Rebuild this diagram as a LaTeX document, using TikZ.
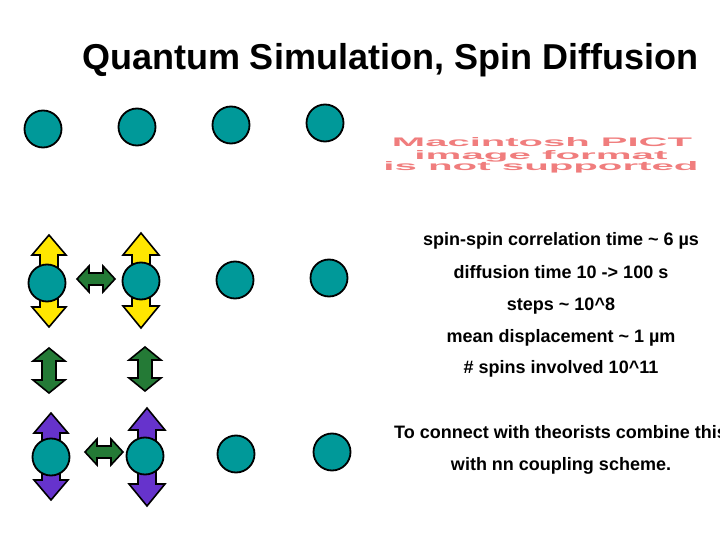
\documentclass[tikz,border=0pt]{standalone}
\usepackage{fontspec}
\setmainfont{Liberation Sans}
\definecolor{spinteal}{RGB}{0,153,153}
\definecolor{spinyellow}{RGB}{255,230,0}
\definecolor{spingreen}{RGB}{36,122,54}
\definecolor{spinpurple}{RGB}{102,51,204}
\definecolor{pictpink}{RGB}{240,125,125}
\newcommand\vdarr[7]{% color, cx, top, bottom, head half width, head length, shaft half width
  \filldraw[arrowshape, fill=#1] (#2,#3) -- (#2+#5,#3+#6) -- (#2+#7,#3+#6) -- (#2+#7,#4-#6) -- (#2+#5,#4-#6)
    -- (#2,#4) -- (#2-#5,#4-#6) -- (#2-#7,#4-#6) -- (#2-#7,#3+#6) -- (#2-#5,#3+#6) -- cycle;}
\newcommand\hdarr[7]{% color, cy, left, right, head half height, head length, shaft half height
  \filldraw[arrowshape, fill=#1] (#3,#2) -- (#3+#6,#2-#5) -- (#3+#6,#2-#7) -- (#4-#6,#2-#7) -- (#4-#6,#2-#5)
    -- (#4,#2) -- (#4-#6,#2+#5) -- (#4-#6,#2+#7) -- (#3+#6,#2+#7) -- (#3+#6,#2+#5) -- cycle;}
\begin{document}
\begin{tikzpicture}[x=1pt,y=-1pt,
  spin/.style={circle, draw=black, line width=1.8pt, fill=spinteal, minimum size=37pt, inner sep=0pt},
  arrowshape/.style={draw=black, line width=1.6pt, line join=miter},
  info/.style={font=\fontsize{18}{20}\selectfont\bfseries, anchor=base, inner sep=0pt},
  pict/.style={text=pictpink, font=\bfseries, anchor=base, inner sep=0pt}]
\useasboundingbox (0,0) rectangle (720,540);
\clip (0,0) rectangle (720,540);
% title
\node[font=\fontsize{36}{40}\selectfont\bfseries, anchor=base, inner sep=0pt] (title) at (390,70) {Quantum Simulation, Spin Diffusion};
% row 1
\node[spin] (a1) at (43,129) {};
\node[spin] (a2) at (137,127) {};
\node[spin] (a3) at (231,125) {};
\node[spin] (a4) at (325,123) {};
% row 2 arrows
\vdarr{spinyellow}{49}{235}{327}{17}{20}{9}
\vdarr{spinyellow}{141}{233}{328}{18}{22}{9}
\hdarr{spingreen}{279}{77}{115}{13}{12}{6}
% row 2
\node[spin] (b1) at (47,283) {};
\node[spin] (b2) at (141,281) {};
\node[spin] (b3) at (235,280) {};
\node[spin] (b4) at (329,278) {};
% vertical green arrows
\vdarr{spingreen}{49}{348}{393}{16}{13}{7}
\vdarr{spingreen}{145}{347}{391}{16}{13}{7}
% row 3 arrows
\vdarr{spinpurple}{51}{413}{500}{17}{20}{9}
\vdarr{spinpurple}{147}{408}{506}{18}{22}{9}
\hdarr{spingreen}{452}{85}{123}{13}{12}{6}
% row 3
\node[spin] (c1) at (51,457) {};
\node[spin] (c2) at (145,456) {};
\node[spin] (c3) at (236,454) {};
\node[spin] (c4) at (332,452) {};
% PICT placeholder
\node[pict] (p1) at (542,147) {\resizebox{300pt}{9pt}{Macintosh PICT}};
\node[pict] (p2) at (541,160) {\resizebox{253pt}{9pt}{image format}};
\node[pict] (p3) at (541,171) {\resizebox{315pt}{9pt}{is not supported}};
% text
\node[info] (t1) at (561,245) {spin-spin correlation time \textasciitilde{} 6 µs};
\node[info] (t2) at (561,278) {diffusion time 10 -> 100 s};
\node[info] (t3) at (561,310) {steps \textasciitilde{} 10\textasciicircum{}8};
\node[info] (t4) at (561,342) {mean displacement \textasciitilde{} 1 µm};
\node[info] (t5) at (561,373) {\# spins involved 10\textasciicircum{}11};
\node[info, anchor=base west] (t6) at (394,438) {To connect with theorists combine this};
\node[info] (t7) at (561,470) {with nn coupling scheme.};
\end{tikzpicture}
\end{document}
